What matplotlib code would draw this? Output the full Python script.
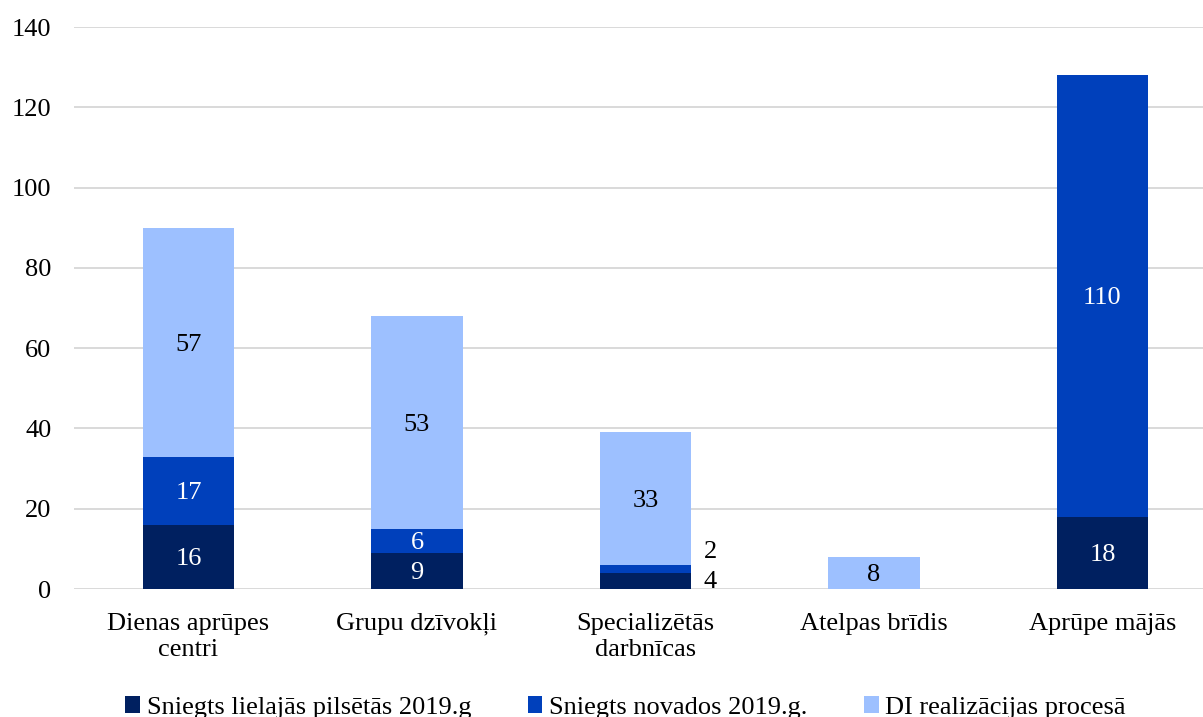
import numpy as np
import matplotlib.pyplot as plt
from matplotlib.patches import Patch

plt.rcParams['font.family'] = ['Liberation Serif', 'DejaVu Serif']

categories = ['Dienas aprūpes\ncentri', 'Grupu dzīvokļi', 'Specializētās\ndarbnīcas',
              'Atelpas brīdis', 'Aprūpe mājās']
series_names = ['Sniegts lielajās pilsētās 2019.g', 'Sniegts novados 2019.g.',
                'DI realizācijas procesā']
cities = [16, 9, 4, 0, 18]
regions = [17, 6, 2, 0, 110]
in_progress = [57, 53, 33, 8, 0]
yticks = [0, 20, 40, 60, 80, 100, 120, 140]

colors = ['#002060', '#0040BB', '#9DC0FF']
text_colors = ['white', 'white', 'black']
fs = 19

fig = plt.figure(figsize=(12.03, 7.17), dpi=100)
ax = fig.add_axes([0.0617, 0.1785, 0.9497, 0.7838])

x = np.arange(len(categories))
width = 0.4
bottom = np.zeros(len(categories))
for vals, col, tcol in zip([cities, regions, in_progress], colors, text_colors):
    vals = np.array(vals, dtype=float)
    bars = ax.bar(x, vals, width, bottom=bottom, color=col, zorder=2)
    for i, (b, v) in enumerate(zip(bars, vals)):
        if v == 0:
            continue
        cy = bottom[i] + v / 2
        if v < 5:
            # thin segments get their label beside the bar
            dy = -1 if col == colors[0] else 12
            ax.annotate(f'{int(v)}', (x[i] + width / 2, cy), xytext=(9, dy),
                        textcoords='offset points', ha='left', va='center',
                        fontsize=fs, color='black')
        else:
            ax.text(x[i], cy, f'{int(v)}', ha='center', va='center_baseline',
                    fontsize=fs, color=tcol, zorder=3)
    bottom += vals

ax.set_xlim(-0.5, len(categories) - 0.5)
ax.set_ylim(0, 140)
ax.set_yticks(yticks)
ax.set_xticks(x)
ax.set_xticklabels(categories, fontsize=fs, linespacing=1.25)
ax.tick_params(axis='y', labelsize=fs, length=0, pad=16.5)
ax.tick_params(axis='x', length=0, pad=17)
ax.grid(axis='y', color='#d9d9d9', linewidth=1.4, zorder=0)
for s in ax.spines.values():
    s.set_visible(False)

handles = [Patch(facecolor=c) for c in colors]
fig.legend(handles, series_names, loc='lower center', bbox_to_anchor=(0.52, -0.036),
           ncol=3, frameon=False, fontsize=fs, handlelength=0.55, handleheight=0.6,
           handletextpad=0.25, columnspacing=2.15)

fig.savefig('out.png', dpi=100)
